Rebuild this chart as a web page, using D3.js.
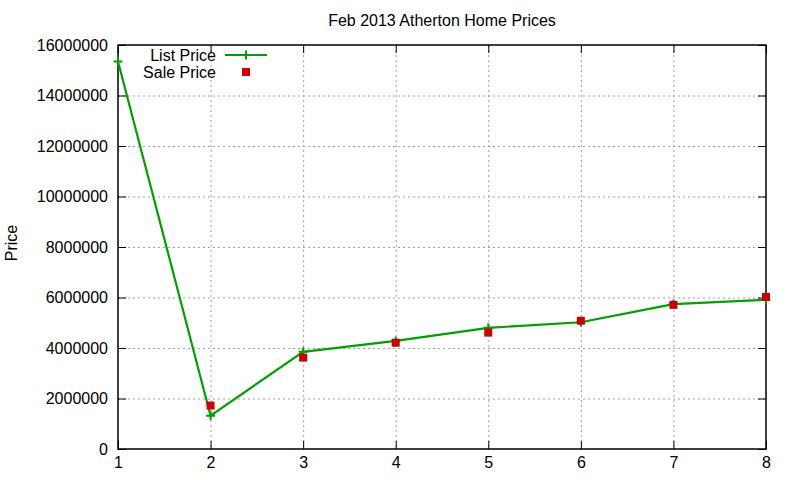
<!DOCTYPE html>
<html>
<head>
<meta charset="utf-8">
<script src="https://cdn.jsdelivr.net/npm/d3@7"></script>
<style>
  body { margin: 0; background: #fff; }
  svg { font-family: "Liberation Sans", Arial, sans-serif; }
  svg text { font-size: 16px; }
</style>
</head>
<body>
<svg id="chart"></svg>
<script>
const months = [1, 2, 3, 4, 5, 6, 7, 8];
const listPrice = [15350000, 1320000, 3850000, 4280000, 4800000, 5020000, 5740000, 5910000];
const salePrice = [null, 1720000, 3620000, 4210000, 4610000, 5080000, 5710000, 6020000];
const yTicks = [0, 2000000, 4000000, 6000000, 8000000, 10000000, 12000000, 14000000, 16000000];

const width = 800, height = 480;
const margin = { top: 45, right: 34, bottom: 31, left: 118 };

const svg = d3.select('#chart').attr('width', width).attr('height', height);

const x = d3.scaleLinear().domain([1, 8]).range([margin.left, width - margin.right]);
const y = d3.scaleLinear().domain([0, 16000000]).range([height - margin.bottom, margin.top]);

// grid
const grid = svg.append('g')
  .attr('stroke', '#a0a0a0')
  .attr('stroke-width', 1)
  .attr('stroke-dasharray', '2,3');
grid.selectAll('.vg').data(months.slice(1, -1)).enter().append('line')
  .attr('x1', d => x(d) + 0.5).attr('x2', d => x(d) + 0.5)
  .attr('y1', y(16000000)).attr('y2', y(0));
grid.selectAll('.hg').data(yTicks.slice(1, -1)).enter().append('line')
  .attr('x1', x(1)).attr('x2', x(8))
  .attr('y1', d => y(d) + 0.5).attr('y2', d => y(d) + 0.5);

// axes (ticks inward, mirrored)
const tickLen = 8;
svg.append('g')
  .attr('transform', `translate(${x(1)},0)`)
  .call(d3.axisLeft(y).tickValues(yTicks).tickSizeInner(-tickLen).tickSizeOuter(0).tickPadding(10).tickFormat(d3.format('d')))
  .call(g => g.select('.domain').remove());
svg.append('g')
  .attr('transform', `translate(${x(8)},0)`)
  .call(d3.axisRight(y).tickValues(yTicks).tickSizeInner(-tickLen).tickSizeOuter(0).tickFormat(''))
  .call(g => g.select('.domain').remove());
svg.append('g')
  .attr('transform', `translate(0,${y(0)})`)
  .call(d3.axisBottom(x).tickValues(months).tickSizeInner(-tickLen).tickSizeOuter(0).tickPadding(8).tickFormat(d3.format('d')))
  .call(g => g.select('.domain').remove());
svg.append('g')
  .attr('transform', `translate(0,${y(16000000)})`)
  .call(d3.axisTop(x).tickValues(months).tickSizeInner(-tickLen).tickSizeOuter(0).tickFormat(''))
  .call(g => g.select('.domain').remove());

svg.selectAll('.tick text')
  .style('font-size', '16px')
  .style('font-family', '"Liberation Sans", Arial, sans-serif')
  .attr('fill', '#000');
svg.selectAll('.tick line').attr('stroke', '#000');

// frame
svg.append('rect')
  .attr('x', x(1)).attr('y', y(16000000))
  .attr('width', x(8) - x(1)).attr('height', y(0) - y(16000000))
  .attr('fill', 'none').attr('stroke', '#000').attr('stroke-width', 1.5);

// list price line
const green = '#00a000';
const red = '#cc0000';
const line = d3.line().x((d, i) => x(months[i])).y(d => y(d));
svg.append('path')
  .datum(listPrice)
  .attr('d', line)
  .attr('fill', 'none')
  .attr('stroke', green)
  .attr('stroke-width', 2.2);

function drawPlus(g, cx, cy) {
  g.append('path')
    .attr('d', `M${cx - 4.5},${cy}H${cx + 4.5}M${cx},${cy - 4.5}V${cy + 4.5}`)
    .attr('stroke', green).attr('stroke-width', 2).attr('fill', 'none');
}
const plusG = svg.append('g');
listPrice.forEach((v, i) => drawPlus(plusG, x(months[i]), y(v)));

// sale price points
svg.append('g').selectAll('rect')
  .data(salePrice.map((v, i) => ({ m: months[i], v })).filter(d => d.v != null))
  .enter().append('rect')
  .attr('x', d => x(d.m) - 4).attr('y', d => y(d.v) - 4)
  .attr('width', 8).attr('height', 8)
  .attr('fill', red);

// legend
const legend = svg.append('g');
legend.append('text').attr('x', 216).attr('y', 61).attr('text-anchor', 'end').text('List Price');
legend.append('line').attr('x1', 225).attr('x2', 267).attr('y1', 55).attr('y2', 55)
  .attr('stroke', green).attr('stroke-width', 2.2);
drawPlus(legend, 246, 55);
legend.append('text').attr('x', 216).attr('y', 78).attr('text-anchor', 'end').text('Sale Price');
legend.append('rect').attr('x', 242).attr('y', 68).attr('width', 8).attr('height', 8).attr('fill', red);

// title
svg.append('text')
  .attr('x', (x(1) + x(8)) / 2).attr('y', 26)
  .attr('text-anchor', 'middle')
  .text('Feb 2013 Atherton Home Prices');

// y label
svg.append('text')
  .attr('transform', `translate(17,243) rotate(-90)`)
  .attr('text-anchor', 'middle')
  .text('Price');
</script>
</body>
</html>
